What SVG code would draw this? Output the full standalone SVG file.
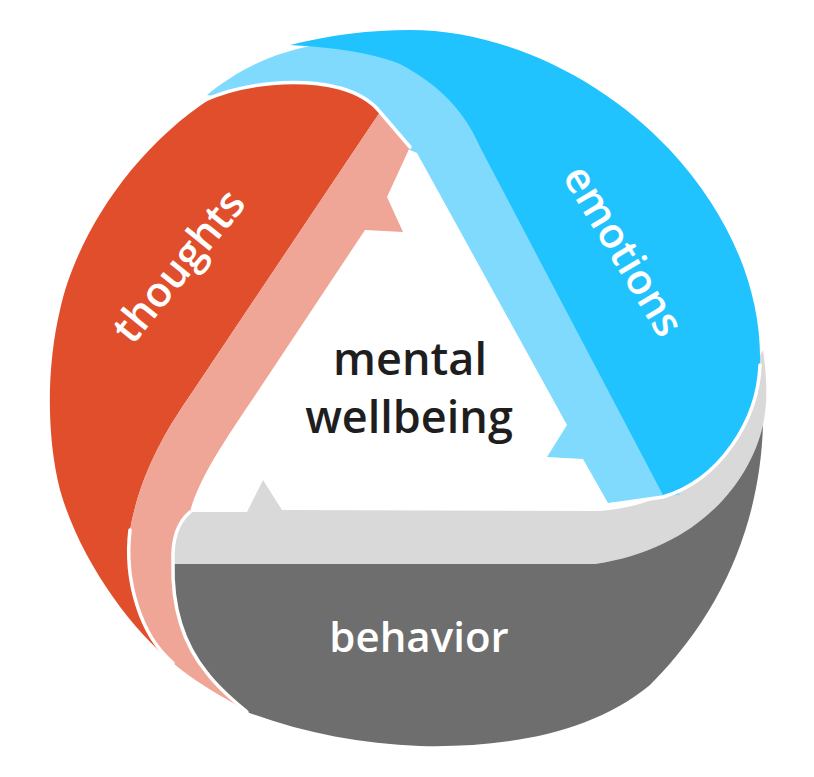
<svg xmlns="http://www.w3.org/2000/svg" width="814" height="777" viewBox="0 0 814 777">
<style>
.lbl{font-family:"Open Sans","DejaVu Sans",sans-serif;font-weight:600;font-size:42px;fill:#ffffff;text-anchor:middle}
.ctr{font-family:"Open Sans","DejaVu Sans",sans-serif;font-weight:600;font-size:45px;fill:#1e1e1e;text-anchor:middle}
.gap{fill:none;stroke:#ffffff;stroke-width:3.5;stroke-linejoin:round;stroke-linecap:round}
</style>
<rect width="814" height="777" fill="#ffffff"/>
<g id="behavior">
<path d="M190,512 L247,512 L263,480 L282,510 L600,511 C680,505 740,455 752,370 L763,350 C768,385 767,405 763,425 C748,490 690,550 595,564 L173,564 C172,545 178,522 190,512 Z" fill="#d9d9d9"/>
<path d="M173,564 L595,564 C690,550 748,490 763,425 C760,520 725,610 650,685 C590,735 500,748 420,746 C360,744 300,732 247,712 C215,685 185,650 178,610 C172,590 172,575 173,564 Z" fill="#6e6e6e"/>
<text class="lbl" x="419" y="652">behavior</text>
</g>
<g id="emotions">
<path d="M207,95 C240,68 275,52 320,44 L440,55 L680,495 L663,496 C645,500 625,502 608,503 L583,459 L547,457 L567,425 L417,153 L410,150 L380,125 C350,100 300,92 260,94 C235,95 220,97 207,95 Z" fill="#7fdafd"/>
<path d="M290,45 C330,35 370,30 410,30 C500,30 600,75 670,150 C730,215 762,290 760,365 C758,420 720,480 663,495 L480,147 C465,112 440,85 400,64 C370,52 330,47 290,45 Z" fill="#20c3fd"/>
<text class="lbl" transform="translate(611,258) rotate(59)">emotions</text>
</g>
<g id="thoughts">
<path d="M213,97 C245,82 300,78 340,88 C358,93 372,102 380,112 L187,400 C165,432 140,475 130,530 C124,580 140,635 173,663 C130,628 80,560 60,490 C45,430 48,360 60,310 C75,240 130,150 213,97 Z" fill="#e14e2b"/>
<path d="M380,112 L410,147 L387,197 L403,232 L365,230 L252,400 C225,440 198,480 190,512 C178,522 172,540 173,563 C172,600 180,640 207,673 C220,690 235,702 247,712 C235,702 205,690 173,663 C140,635 124,580 130,530 C140,475 165,432 187,400 Z" fill="#f0a696"/>
<text class="lbl" transform="translate(190,275) rotate(-51)">thoughts</text>
</g>
<g id="connectors">
<path class="gap" d="M205,100 C245,82 300,78 340,88 C358,93 372,102 380,112 L410,147"/>
<path class="gap" d="M130,530 C124,580 140,635 173,663"/>
<path class="gap" d="M190,512 C178,522 172,540 173,563 C172,600 180,640 207,673 C220,690 235,702 247,712"/>
<path class="gap" d="M600,506 L663,497 C720,480 758,420 760,365"/>
</g>
<g id="center">
<text class="ctr" x="410" y="375">mental</text>
<text class="ctr" x="409" y="433">wellbeing</text>
</g>
</svg>
